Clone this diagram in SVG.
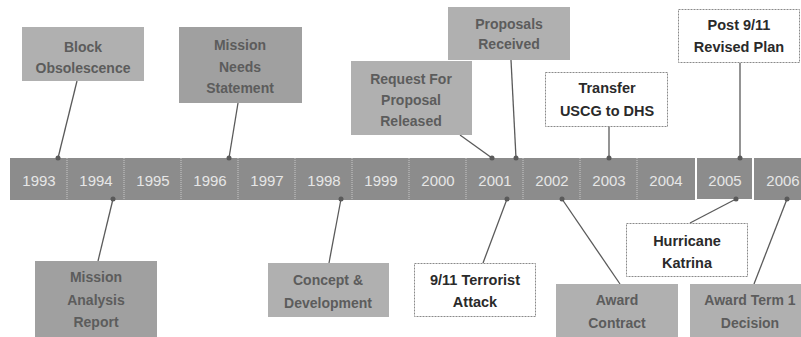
<svg xmlns="http://www.w3.org/2000/svg" width="801" height="337" viewBox="0 0 801 337">
<style>
  .g { fill:#b0b0b0; }
  .gd { fill:#a0a0a0; }
  .w { fill:#ffffff; stroke:#8a8a8a; stroke-width:1; stroke-dasharray:2 1; }
  .gt { font-family:"Liberation Sans", Arial, sans-serif; font-weight:bold; font-size:14px; fill:#5c5c5c; text-anchor:middle; }
  .wt { font-family:"Liberation Sans", Arial, sans-serif; font-weight:bold; font-size:14.5px; fill:#2a2a2a; text-anchor:middle; }
  .yr { font-family:"Liberation Sans", Arial, sans-serif; font-size:15px; fill:#e6e6e6; text-anchor:middle; }
  .cell { fill:#8c8c8c; }
  .div { stroke:#c8c8c8; stroke-width:1; stroke-dasharray:1 1; }
  .con { stroke:#5a5a5a; stroke-width:1.3; fill:none; }
  .dot { fill:#5a5a5a; }
</style>
<rect width="801" height="337" fill="#ffffff"/>

<g id="timeline">
  <rect class="cell" x="10" y="158" width="685" height="42"/>
  <rect class="cell" x="697" y="158" width="55" height="41" fill="#939393"/>
  <rect class="cell" x="754" y="158" width="47" height="42" fill="#939393"/>
  <line class="div" x1="67" y1="158" x2="67" y2="200"/>
  <line class="div" x1="124" y1="158" x2="124" y2="200"/>
  <line class="div" x1="181" y1="158" x2="181" y2="200"/>
  <line class="div" x1="238" y1="158" x2="238" y2="200"/>
  <line class="div" x1="295" y1="158" x2="295" y2="200"/>
  <line class="div" x1="352" y1="158" x2="352" y2="200"/>
  <line class="div" x1="409" y1="158" x2="409" y2="200"/>
  <line class="div" x1="466" y1="158" x2="466" y2="200"/>
  <line class="div" x1="523" y1="158" x2="523" y2="200"/>
  <line class="div" x1="580" y1="158" x2="580" y2="200"/>
  <line class="div" x1="637" y1="158" x2="637" y2="200"/>
  <text class="yr" x="39" y="186">1993</text>
  <text class="yr" x="96" y="186">1994</text>
  <text class="yr" x="153" y="186">1995</text>
  <text class="yr" x="210" y="186">1996</text>
  <text class="yr" x="267" y="186">1997</text>
  <text class="yr" x="324" y="186">1998</text>
  <text class="yr" x="381" y="186">1999</text>
  <text class="yr" x="438" y="186">2000</text>
  <text class="yr" x="495" y="186">2001</text>
  <text class="yr" x="552" y="186">2002</text>
  <text class="yr" x="609" y="186">2003</text>
  <text class="yr" x="666" y="186">2004</text>
  <text class="yr" x="725" y="186">2005</text>
  <text class="yr" x="783" y="186">2006</text>
</g>

<g id="connectors">
  <line class="con" x1="77" y1="81" x2="58" y2="158"/>
  <line class="con" x1="238" y1="103" x2="229" y2="158"/>
  <line class="con" x1="460" y1="135" x2="492" y2="158"/>
  <line class="con" x1="511" y1="60" x2="516" y2="158"/>
  <line class="con" x1="609" y1="126" x2="609" y2="158"/>
  <line class="con" x1="740" y1="63" x2="740" y2="158"/>
  <line class="con" x1="113" y1="199" x2="98" y2="261"/>
  <line class="con" x1="341" y1="199" x2="329" y2="263"/>
  <line class="con" x1="507" y1="199" x2="483" y2="263"/>
  <line class="con" x1="562" y1="199" x2="620" y2="284"/>
  <line class="con" x1="736" y1="199" x2="690" y2="223"/>
  <line class="con" x1="787" y1="199" x2="754" y2="284"/>
  <circle class="dot" cx="58" cy="158" r="2.5"/>
  <circle class="dot" cx="229" cy="158" r="2.5"/>
  <circle class="dot" cx="492" cy="158" r="2.5"/>
  <circle class="dot" cx="516" cy="158" r="2.5"/>
  <circle class="dot" cx="609" cy="158" r="2.5"/>
  <circle class="dot" cx="740" cy="158" r="2.5"/>
  <circle class="dot" cx="113" cy="199" r="2.5"/>
  <circle class="dot" cx="341" cy="199" r="2.5"/>
  <circle class="dot" cx="507" cy="199" r="2.5"/>
  <circle class="dot" cx="562" cy="199" r="2.5"/>
  <circle class="dot" cx="736" cy="199" r="2.5"/>
  <circle class="dot" cx="787" cy="199" r="2.5"/>
</g>

<g id="block-obsolescence">
  <rect class="g" x="22" y="27" width="122" height="54" fill="#a8a8a8"/>
  <text class="gt" x="83" y="52">Block</text>
  <text class="gt" x="83" y="73">Obsolescence</text>
</g>
<g id="mission-needs-statement">
  <rect class="gd" x="179" y="27" width="123" height="76"/>
  <text class="gt" x="240" y="50">Mission</text>
  <text class="gt" x="240" y="72">Needs</text>
  <text class="gt" x="240" y="93">Statement</text>
</g>
<g id="request-for-proposal-released">
  <rect class="g" x="351" y="61" width="121" height="74" fill="#b4b4b4"/>
  <text class="gt" x="411" y="84">Request For</text>
  <text class="gt" x="411" y="105">Proposal</text>
  <text class="gt" x="411" y="126">Released</text>
</g>
<g id="proposals-received">
  <rect class="g" x="448" y="7" width="122" height="53"/>
  <text class="gt" x="509" y="29">Proposals</text>
  <text class="gt" x="509" y="49">Received</text>
</g>
<g id="transfer-uscg-to-dhs">
  <rect class="w" x="545.5" y="72.5" width="122" height="54"/>
  <text class="wt" x="607" y="93">Transfer</text>
  <text class="wt" x="607" y="116">USCG to DHS</text>
</g>
<g id="post-911-revised-plan">
  <rect class="w" x="678.5" y="9.5" width="121" height="53"/>
  <text class="wt" x="739" y="30">Post 9/11</text>
  <text class="wt" x="739" y="52">Revised Plan</text>
</g>
<g id="mission-analysis-report">
  <rect class="gd" x="35" y="261" width="122" height="76"/>
  <text class="gt" x="96" y="282">Mission</text>
  <text class="gt" x="96" y="305">Analysis</text>
  <text class="gt" x="96" y="327">Report</text>
</g>
<g id="concept-development">
  <rect class="g" x="268" y="263" width="121" height="54"/>
  <text class="gt" x="328" y="285">Concept &amp;</text>
  <text class="gt" x="328" y="308">Development</text>
</g>
<g id="terrorist-attack">
  <rect class="w" x="414.5" y="263.5" width="121" height="53"/>
  <text class="wt" x="475" y="285">9/11 Terrorist</text>
  <text class="wt" x="475" y="307">Attack</text>
</g>
<g id="hurricane-katrina">
  <rect class="w" x="626.5" y="223.5" width="121" height="53"/>
  <text class="wt" x="687" y="246">Hurricane</text>
  <text class="wt" x="687" y="268">Katrina</text>
</g>
<g id="award-contract">
  <rect class="g" x="556" y="284" width="122" height="53" fill="#b4b4b4"/>
  <text class="gt" x="617" y="305">Award</text>
  <text class="gt" x="617" y="328">Contract</text>
</g>
<g id="award-term-1-decision">
  <rect class="g" x="690" y="284" width="122" height="53" fill="#b4b4b4"/>
  <text class="gt" x="750" y="305">Award Term 1</text>
  <text class="gt" x="750" y="328">Decision</text>
</g>
</svg>
